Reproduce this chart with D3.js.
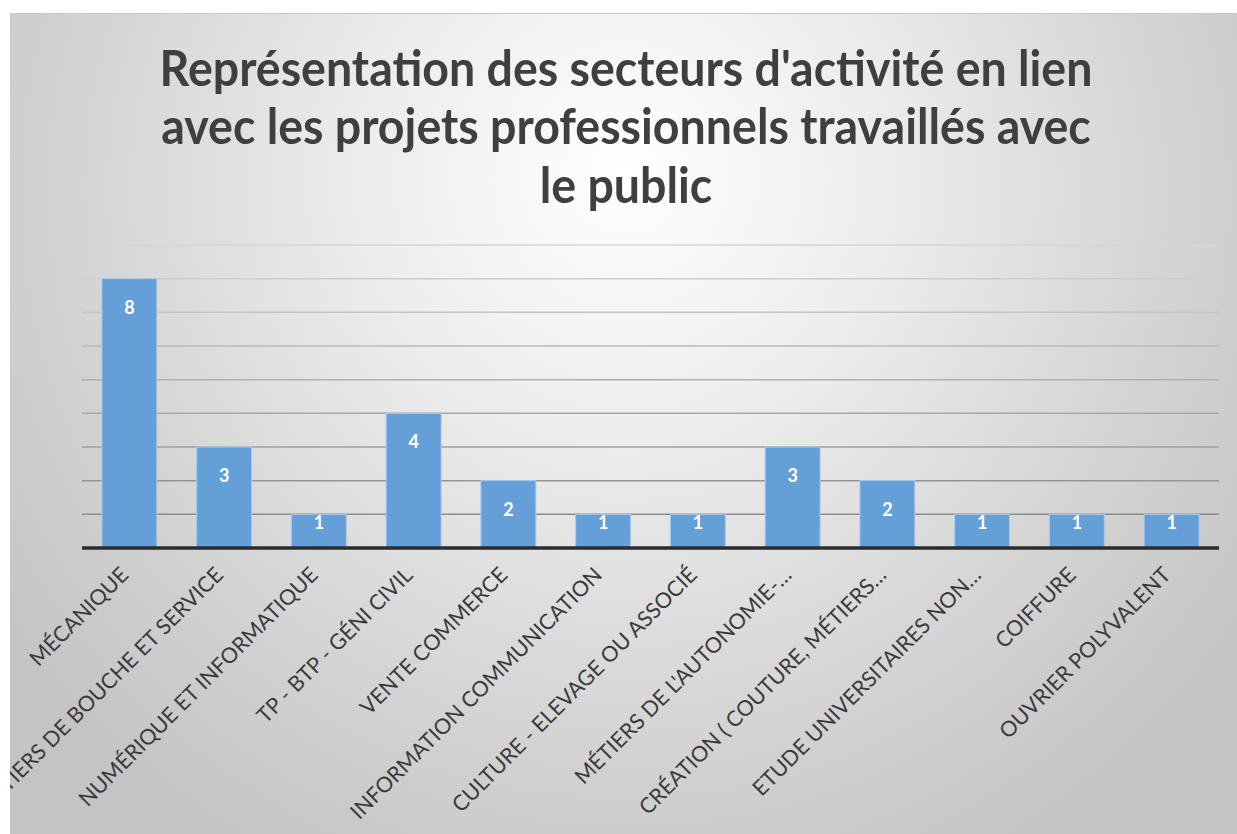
<!DOCTYPE html>
<html><head><meta charset="utf-8">
<script src="https://cdn.jsdelivr.net/npm/d3@7"></script>
<style>html,body{margin:0;padding:0;background:#fff;}svg{display:block;}</style>
</head><body>
<script>
const categories = ["MÉCANIQUE","MÉTIERS DE BOUCHE ET SERVICE","NUMÉRIQUE ET INFORMATIQUE","TP - BTP - GÉNI CIVIL","VENTE COMMERCE","INFORMATION COMMUNICATION","CULTURE - ELEVAGE OU ASSOCIÉ","MÉTIERS DE L'AUTONOMIE-…","CRÉATION ( COUTURE, MÉTIERS…","ETUDE UNIVERSITAIRES NON…","COIFFURE","OUVRIER POLYVALENT"];
const values = [8,3,1,4,2,1,1,3,2,1,1,1];
const yTicks = [0,1,2,3,4,5,6,7,8,9];
const titleLines = ["Représentation des secteurs d'activité en lien","avec les projets professionnels travaillés avec","le public"];

const W = 1237, H = 834;
const svg = d3.select("body").append("svg").attr("width", W).attr("height", H);
const defs = svg.append("defs");
const rg = defs.append("radialGradient").attr("id","bg").attr("gradientUnits","userSpaceOnUse")
  .attr("cx",625).attr("cy",200).attr("r",760).attr("fx",625).attr("fy",170);
rg.append("stop").attr("offset","0%").attr("stop-color","#ffffff");
rg.append("stop").attr("offset","35%").attr("stop-color","#ececec");
rg.append("stop").attr("offset","75%").attr("stop-color","#d2d2d2");
rg.append("stop").attr("offset","100%").attr("stop-color","#c4c4c4");
defs.append("clipPath").attr("id","area").append("rect").attr("x",10).attr("y",13).attr("width",W-10).attr("height",H-13);

const g = svg.append("g").attr("clip-path","url(#area)");
g.append("rect").attr("x",10).attr("y",13).attr("width",W-10).attr("height",H-13).attr("fill","url(#bg)");
g.append("line").attr("x1",10).attr("x2",W).attr("y1",13.5).attr("y2",13.5).attr("stroke","#c8c8c8").attr("stroke-width",1);

const x = d3.scaleBand().domain(categories).range([82,1219]).paddingInner(0.42).paddingOuter(0.21);
const y = d3.scaleLinear().domain([0,9]).range([548,245]);
const gridCol = d3.scaleLinear().domain([9,1]).range(["#d6d6d6","#8c8c8c"]);

// gridlines
g.append("g").selectAll("line").data(yTicks.filter(t=>t>0)).join("line")
  .attr("x1",82).attr("x2",1219).attr("y1",d=>y(d)).attr("y2",d=>y(d))
  .attr("stroke",d=>gridCol(d)).attr("stroke-width",1.5);

// bars
g.append("g").selectAll("rect").data(values).join("rect")
  .attr("x",(d,i)=>x(categories[i])).attr("width",x.bandwidth())
  .attr("y",d=>y(d)).attr("height",d=>y(0)-y(d))
  .attr("fill","#659fd7").attr("stroke","#a9cbee").attr("stroke-width",1);

// baseline axis
const xAxis = d3.axisBottom(x).tickSize(0).tickFormat("");
const ax = g.append("g").attr("transform","translate(0,548)").call(xAxis);
ax.select(".domain").attr("stroke","#2b2b2b").attr("stroke-width",3.5).attr("d","M82,0H1219");

// value labels
g.append("g").selectAll("text").data(values).join("text")
  .attr("x",(d,i)=>x(categories[i])+x.bandwidth()/2)
  .attr("y",d=>{const h=y(0)-y(d);return y(d)+(h<40?8:28);})
  .attr("text-anchor","middle").attr("dominant-baseline","central")
  .attr("fill","#ffffff").attr("font-family","Lato, 'Open Sans', sans-serif").attr("font-weight","bold").attr("font-size",18)
  .text(d=>d);

// category labels
g.append("g").selectAll("text").data(categories).join("text")
  .attr("transform",d=>`translate(${x(d)+x.bandwidth()/2-5},571) rotate(-45)`)
  .attr("text-anchor","end").attr("dy","0.35em")
  .attr("fill","#3a3a3a").attr("font-family","Lato, 'Open Sans', sans-serif").attr("font-size",21.5)
  .text(d=>d);

// title
const tg = g.append("g");
const ys = [86,144,203];
const t = tg.selectAll("text").data(titleLines).join("text")
  .attr("transform",(d,i)=>`translate(626,${ys[i]}) scale(1,1.08)`).attr("text-anchor","middle")
  .attr("fill","#3f3f3f").attr("font-family","Lato, 'Open Sans', sans-serif").attr("font-weight","bold").attr("font-size",42)
  .text(d=>d);
const w0 = t.nodes()[0].getComputedTextLength();
const fs = 42*933/w0;
t.attr("font-size",fs);
</script>
</body></html>
